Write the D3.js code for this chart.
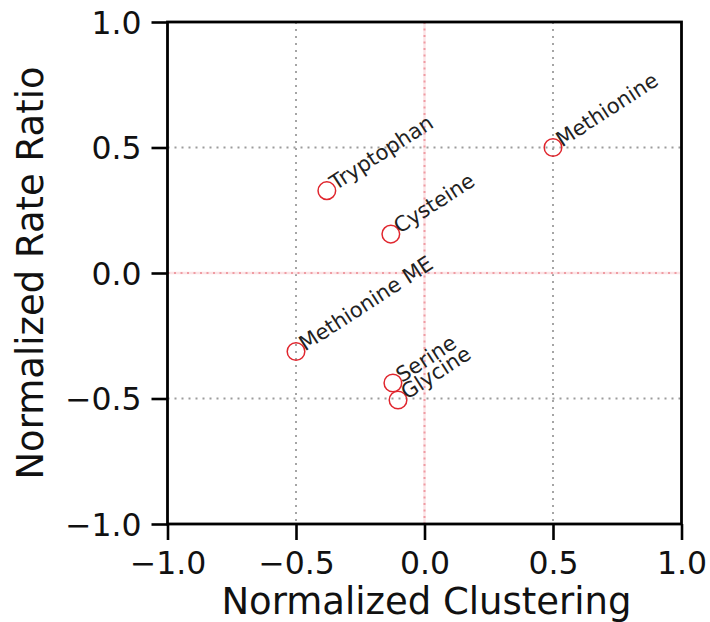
<!DOCTYPE html>
<html>
<head>
<meta charset="utf-8">
<script src="https://cdn.jsdelivr.net/npm/d3@7/dist/d3.min.js"></script>
<style>
  html, body { margin: 0; padding: 0; background: #fff; }
  svg { display: block; font-family: "DejaVu Sans", sans-serif; }
</style>
</head>
<body>
<svg id="chart" width="710" height="622"></svg>
<script>
// Amino acids: normalized clustering vs normalized rate ratio
const names = ["Methionine", "Tryptophan", "Cysteine", "Methionine ME", "Serine", "Glycine"];
const clustering = [0.50, -0.38, -0.131, -0.50, -0.123, -0.103];
const rateRatio = [0.50, 0.328, 0.155, -0.313, -0.438, -0.506];
const ticks = [-1.0, -0.5, 0.0, 0.5, 1.0];

const svg = d3.select("#chart");
const plotL = 167.5, plotR = 681.5, plotT = 22, plotB = 524;

const x = d3.scaleLinear().domain([-1, 1]).range([plotL, plotR]);
const y = d3.scaleLinear().domain([-1, 1]).range([plotB, plotT]);
const fmt = d => d3.format(".1f")(d).replace("-", "\u2212");

// dotted grid at ±0.5, red reference lines at zero
const grid = svg.append("g");
[-0.5, 0.5].forEach(v => {
  grid.append("line").attr("x1", x(v)).attr("x2", x(v)).attr("y1", plotT).attr("y2", plotB)
    .attr("stroke", "#9c9c9c").attr("stroke-width", 1.8).attr("stroke-dasharray", "2,5");
  grid.append("line").attr("x1", plotL).attr("x2", plotR).attr("y1", y(v)).attr("y2", y(v))
    .attr("stroke", "#9c9c9c").attr("stroke-width", 1.8).attr("stroke-dasharray", "2,5");
});
[["x", 0], ["y", 0]].forEach(([dim, v]) => {
  const l = dim === "x"
    ? { x1: x(v), x2: x(v), y1: plotT, y2: plotB }
    : { x1: plotL, x2: plotR, y1: y(v), y2: y(v) };
  grid.append("line").attr("x1", l.x1).attr("x2", l.x2).attr("y1", l.y1).attr("y2", l.y2)
    .attr("stroke", "#fbe3e5").attr("stroke-width", 2.4);
  grid.append("line").attr("x1", l.x1).attr("x2", l.x2).attr("y1", l.y1).attr("y2", l.y2)
    .attr("stroke", "#ef9ca3").attr("stroke-width", 2).attr("stroke-dasharray", "2,4.5");
});

// axes
const xAxis = svg.append("g").attr("transform", `translate(0,${plotB})`)
  .call(d3.axisBottom(x).tickValues(ticks).tickFormat(fmt).tickSize(16));
const yAxis = svg.append("g").attr("transform", `translate(${plotL},0)`)
  .call(d3.axisLeft(y).tickValues(ticks).tickFormat(fmt).tickSize(16));
[xAxis, yAxis].forEach(a => {
  a.select(".domain").remove();
  a.selectAll(".tick line").attr("stroke", "#000").attr("stroke-width", 2.6);
  a.selectAll(".tick text").attr("fill", "#111").style("font-size", "31.5px")
    .style("font-family", "DejaVu Sans, sans-serif");
});
xAxis.selectAll(".tick text").attr("y", 50).attr("dy", 0);
yAxis.selectAll(".tick text").attr("x", -26).attr("dy", "0.36em");

// frame
svg.append("rect").attr("x", plotL).attr("y", plotT).attr("width", plotR - plotL).attr("height", plotB - plotT)
  .attr("fill", "none").attr("stroke", "#000").attr("stroke-width", 2.8);

// axis titles
svg.append("text").attr("x", (plotL + plotR) / 2 + 2).attr("y", 614).attr("text-anchor", "middle")
  .attr("fill", "#111").style("font-size", "37px").text("Normalized Clustering");
svg.append("text").attr("transform", `translate(43,${(plotT + plotB) / 2}) rotate(-90)`)
  .attr("text-anchor", "middle").attr("fill", "#111").style("font-size", "37px")
  .text("Normalized Rate Ratio");

// points
const data = names.map((n, i) => ({ name: n, cx: clustering[i], cy: rateRatio[i] }));
svg.append("g").selectAll("circle").data(data).join("circle")
  .attr("cx", d => x(d.cx)).attr("cy", d => y(d.cy)).attr("r", 8.8)
  .attr("fill", "none").attr("stroke", "#e0262e").attr("stroke-width", 1.5);

// rotated labels
svg.append("g").selectAll("text").data(data).join("text")
  .attr("transform", d => `translate(${x(d.cx) + 9},${y(d.cy)}) rotate(-33)`)
  .attr("fill", "#222").style("font-size", "21px").text(d => d.name);
</script>
</body>
</html>
